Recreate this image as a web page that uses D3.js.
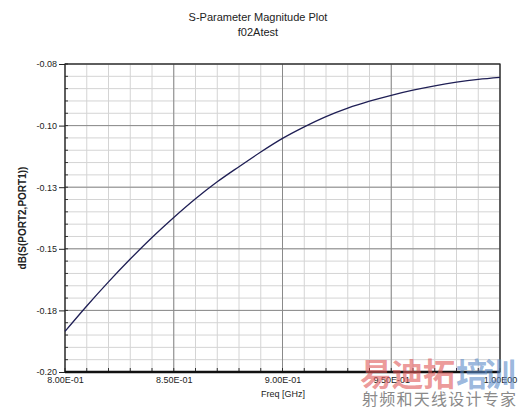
<!DOCTYPE html>
<html><head><meta charset="utf-8">
<script src="https://cdn.jsdelivr.net/npm/d3@7"></script>
<style>body{margin:0;background:#fff;}svg{display:block;}</style>
</head><body>
<svg id="c" width="519" height="410"></svg>
<script>
const freqs = [0.80,0.81,0.82,0.83,0.84,0.85,0.86,0.87,0.88,0.89,0.90,0.91,0.92,0.93,0.94,0.95,0.96,0.97,0.98,0.99,1.00];
const s21dB = [-0.1842,-0.1743,-0.1649,-0.1560,-0.1476,-0.1398,-0.1325,-0.1259,-0.1200,-0.1143,-0.1090,-0.1045,-0.1005,-0.0972,-0.0945,-0.0922,-0.0902,-0.0885,-0.0871,-0.0860,-0.0852];
const xTickVals = [0.80,0.85,0.90,0.95,1.00];
const xTickLabels = ["8.00E-01","8.50E-01","9.00E-01","9.50E-01","1.00E00"];
const yTickVals = [-0.08,-0.104,-0.128,-0.152,-0.176,-0.20];
const yTickLabels = ["-0.08","-0.10","-0.13","-0.15","-0.18","-0.20"];
const titleLines = ["S-Parameter Magnitude Plot","f02Atest"];

const svg = d3.select("#c");
const L=65, R=500, T=64, B=372;
const x = d3.scaleLinear().domain([0.8,1.0]).range([L,R]);
const y = d3.scaleLinear().domain([-0.20,-0.08]).range([B,T]);
const font = "'Liberation Sans', Arial, sans-serif";

const xMinor = d3.range(0,21).map(i=>0.8+i*0.01);
const yMinor = d3.range(0,26).map(i=>-0.2+i*0.0048);

const g = svg.append("g");
g.selectAll(".vx").data(xMinor).join("line")
  .attr("x1",d=>x(d)).attr("x2",d=>x(d)).attr("y1",T).attr("y2",B)
  .attr("stroke","#d4d4d4").attr("stroke-width",1);
g.selectAll(".hy").data(yMinor).join("line")
  .attr("y1",d=>y(d)).attr("y2",d=>y(d)).attr("x1",L).attr("x2",R)
  .attr("stroke","#d4d4d4").attr("stroke-width",1);
g.selectAll(".vX").data(xTickVals).join("line")
  .attr("x1",d=>x(d)).attr("x2",d=>x(d)).attr("y1",T).attr("y2",B)
  .attr("stroke","#8a8a8a").attr("stroke-width",1);
g.selectAll(".hY").data(yTickVals).join("line")
  .attr("y1",d=>y(d)).attr("y2",d=>y(d)).attr("x1",L).attr("x2",R)
  .attr("stroke","#8a8a8a").attr("stroke-width",1);

g.selectAll(".mty").data(yMinor).join("line")
  .attr("y1",d=>y(d)).attr("y2",d=>y(d)).attr("x1",L).attr("x2",L+3)
  .attr("stroke","#333");
g.selectAll(".mtx").data(xMinor).join("line")
  .attr("x1",d=>x(d)).attr("x2",d=>x(d)).attr("y1",B).attr("y2",B-4)
  .attr("stroke","#333");

svg.append("rect").attr("x",L).attr("y",T).attr("width",R-L).attr("height",B-T)
  .attr("fill","none").attr("stroke","#222").attr("stroke-width",1.2);
svg.append("line").attr("x1",L).attr("x2",R).attr("y1",B).attr("y2",B)
  .attr("stroke","#111").attr("stroke-width",2.5);

const yAxis = d3.axisLeft(y).tickValues(yTickVals).tickSize(6).tickFormat((d,i)=>yTickLabels[i]);
const ya = svg.append("g").attr("transform",`translate(${L},0)`).call(yAxis);
ya.select(".domain").remove();
ya.selectAll("line").attr("stroke","#222");
ya.selectAll("text").attr("font-family",font).attr("font-size",9).attr("fill","#222").attr("dx",1);

const xAxis = d3.axisBottom(x).tickValues(xTickVals).tickSize(0).tickPadding(5).tickFormat((d,i)=>xTickLabels[i]);
const xa = svg.append("g").attr("transform",`translate(0,${B})`).call(xAxis);
xa.select(".domain").remove();
xa.selectAll("text").attr("font-family",font).attr("font-size",9).attr("fill","#222");

const line = d3.line().x((d,i)=>x(freqs[i])).y(d=>y(d)).curve(d3.curveMonotoneX);
svg.append("path").datum(s21dB).attr("d",line).attr("fill","none")
  .attr("stroke","#1f1f55").attr("stroke-width",1.3);

svg.selectAll(".title").data(titleLines).join("text")
  .attr("x",258).attr("y",(d,i)=>21+i*15).attr("text-anchor","middle")
  .attr("font-family",font).attr("font-size",11).attr("fill","#222").text(d=>d);
svg.append("text").attr("x",283).attr("y",397).attr("text-anchor","middle")
  .attr("font-family",font).attr("font-size",9).attr("fill","#222").text("Freq [GHz]");
svg.append("text").attr("transform","translate(26,218) rotate(-90)").attr("text-anchor","middle")
  .attr("font-family",font).attr("font-size",10).attr("font-weight","bold").attr("fill","#222")
  .text("dB(S(PORT2,PORT1))");

// watermark (overlay present in the reference)
const wm = svg.append("g");
wm.append("text").attr("x",360).attr("y",386).attr("font-family","'Noto Sans CJK SC'")
  .attr("font-size",32).attr("font-weight","bold").attr("fill","#e05858").attr("fill-opacity",0.62)
  .attr("textLength",95).text("易迪拓");
wm.append("text").attr("x",456).attr("y",386).attr("font-family","'Noto Sans CJK SC'")
  .attr("font-size",32).attr("font-weight","bold").attr("fill","#5a8ac8").attr("fill-opacity",0.62)
  .attr("textLength",60).text("培训");
wm.append("text").attr("x",362).attr("y",405).attr("font-family","'Noto Sans CJK SC'")
  .attr("font-size",16).attr("fill","#8a8a8a").attr("textLength",154).text("射频和天线设计专家");
</script>
</body></html>
